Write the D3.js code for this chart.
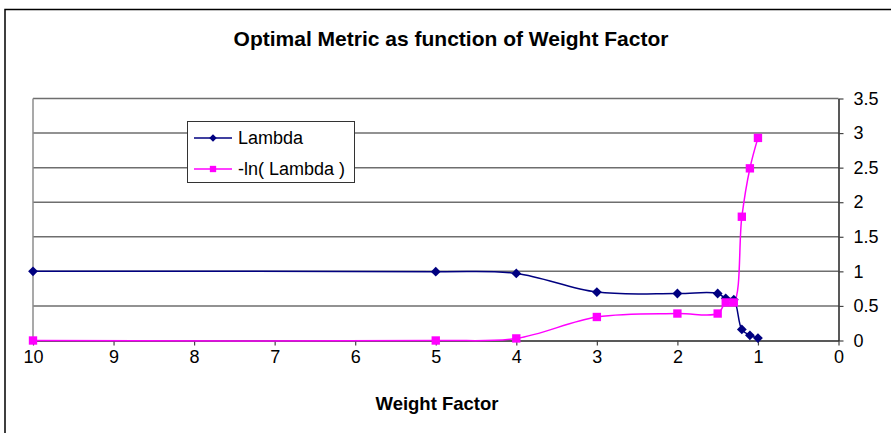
<!DOCTYPE html>
<html>
<head>
<meta charset="utf-8">
<script src="https://cdn.jsdelivr.net/npm/d3@7"></script>
<style>
  body { margin: 0; background: #fff; }
  text { font-family: "Liberation Sans", Arial, sans-serif; fill: #000; }
</style>
</head>
<body>
<svg id="chart" width="891" height="433"></svg>
<script>
// Data
const weightFactor = [10, 5, 4, 3, 2, 1.5, 1.4, 1.3, 1.2, 1.1, 1.0];
const lambda = [1.0, 0.995, 0.97, 0.70, 0.68, 0.68, 0.61, 0.59, 0.16, 0.075, 0.035];
const negLnLambda = [0, 0, 0.03, 0.34, 0.39, 0.39, 0.55, 0.55, 1.79, 2.49, 2.93];
const xTicks = [10, 9, 8, 7, 6, 5, 4, 3, 2, 1, 0];
const yTicks = [0, 0.5, 1, 1.5, 2, 2.5, 3, 3.5];
const seriesNames = ["Lambda", "-ln( Lambda )"];

const plot = {left: 33, right: 838.5, top: 98.5, bottom: 340.5};

const svg = d3.select("#chart");

// Outer chart frame (only top and left edges are in view)
svg.append("path")
    .attr("d", "M5,440 V9.5 H900")
    .attr("fill", "none")
    .attr("stroke", "#000")
    .attr("stroke-width", 1.5);

const x = d3.scaleLinear().domain([10, 0]).range([plot.left, plot.right]);
const y = d3.scaleLinear().domain([0, 3.5]).range([plot.bottom, plot.top]);

// Title
svg.append("text")
    .attr("x", 451)
    .attr("y", 46)
    .attr("text-anchor", "middle")
    .attr("font-size", 21)
    .attr("font-weight", "bold")
    .text("Optimal Metric as function of Weight Factor");

// Horizontal gridlines
svg.append("g")
    .selectAll("line")
    .data(yTicks.filter(d => d > 0))
    .join("line")
    .attr("x1", plot.left)
    .attr("x2", plot.right)
    .attr("y1", d => y(d))
    .attr("y2", d => y(d))
    .attr("stroke", "#6e6e6e")
    .attr("stroke-width", 1.5);

// Plot area left border
svg.append("line")
    .attr("x1", plot.left).attr("x2", plot.left)
    .attr("y1", plot.top).attr("y2", plot.bottom)
    .attr("stroke", "#8c8c8c")
    .attr("stroke-width", 1.5);

// X axis
const xAxis = svg.append("g")
    .attr("transform", "translate(0," + plot.bottom + ")")
    .call(d3.axisBottom(x).tickValues(xTicks).tickSize(5).tickSizeOuter(0).tickFormat(d3.format("d")));
xAxis.select(".domain").attr("stroke", "#222").attr("stroke-width", 1.5);
xAxis.selectAll(".tick line").attr("stroke", "#444").attr("stroke-width", 1.2);
xAxis.selectAll(".tick text")
    .attr("y", 22)
    .attr("dy", 0)
    .attr("font-size", 18)
    .attr("font-family", "Liberation Sans, Arial, sans-serif")
    .attr("fill", "#000");

// Y axis on the right
const yAxis = svg.append("g")
    .attr("transform", "translate(" + plot.right + ",0)")
    .call(d3.axisRight(y).tickValues(yTicks).tickSize(5).tickPadding(10).tickSizeOuter(0).tickFormat(d => d));
yAxis.select(".domain").attr("stroke", "#222").attr("stroke-width", 1.5);
yAxis.selectAll(".tick line").attr("stroke", "#444").attr("stroke-width", 1.2);
yAxis.selectAll(".tick text")
    .attr("font-size", 18)
    .attr("font-family", "Liberation Sans, Arial, sans-serif")
    .attr("fill", "#000");

// Axis title
svg.append("text")
    .attr("x", 437)
    .attr("y", 410)
    .attr("text-anchor", "middle")
    .attr("font-size", 18.5)
    .attr("font-weight", "bold")
    .text("Weight Factor");

// Smoothed lines like the spreadsheet's
const line = d3.line()
    .curve(d3.curveCatmullRom.alpha(0.5))
    .x(d => x(d[0]))
    .y(d => y(d[1]));

const series = [
    {name: seriesNames[0], values: lambda, color: "#000080", diamond: true},
    {name: seriesNames[1], values: negLnLambda, color: "#ff00ff", diamond: false},
];

series.forEach(s => {
    const pts = weightFactor.map((w, i) => [w, s.values[i]]);
    svg.append("path")
        .datum(pts)
        .attr("d", line)
        .attr("fill", "none")
        .attr("stroke", s.color)
        .attr("stroke-width", 1.5);
});

series.forEach(s => {
    const pts = weightFactor.map((w, i) => [w, s.values[i]]);
    const shape = d3.symbol().type(d3.symbolSquare).size(s.diamond ? 48 : 70);
    svg.append("g")
        .selectAll("path")
        .data(pts)
        .join("path")
        .attr("d", shape)
        .attr("transform", d => "translate(" + x(d[0]) + "," + y(d[1]) + ")" +
            (s.diamond ? " rotate(45)" : ""))
        .attr("fill", s.color);
});

// Legend
const legend = svg.append("g").attr("transform", "translate(187,121)");
legend.append("rect")
    .attr("x", 0.5).attr("y", 0.5)
    .attr("width", 167).attr("height", 61)
    .attr("fill", "#fff")
    .attr("stroke", "#333")
    .attr("stroke-width", 1);

series.forEach((s, i) => {
    const ly = 17 + i * 31;
    legend.append("line")
        .attr("x1", 7).attr("x2", 45)
        .attr("y1", ly).attr("y2", ly)
        .attr("stroke", s.color)
        .attr("stroke-width", 1.5);
    legend.append("path")
        .attr("d", d3.symbol().type(d3.symbolSquare).size(s.diamond ? 28 : 40))
        .attr("transform", "translate(26," + ly + ")" + (s.diamond ? " rotate(45)" : ""))
        .attr("fill", s.color);
    legend.append("text")
        .attr("x", 51)
        .attr("y", ly)
        .attr("dy", "0.35em")
        .attr("font-size", 18)
        .text(s.name);
});
</script>
</body>
</html>
